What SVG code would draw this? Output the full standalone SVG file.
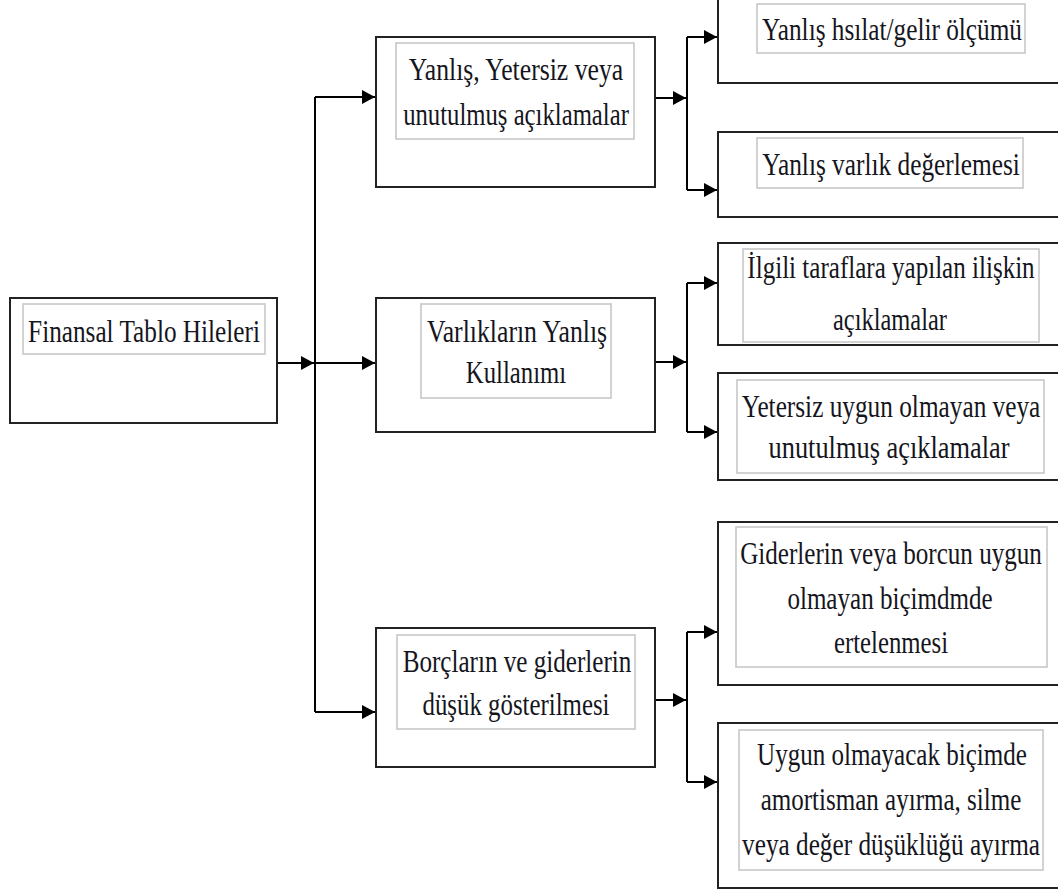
<svg xmlns="http://www.w3.org/2000/svg" width="1058" height="894" viewBox="0 0 1058 894">
<defs>
<marker id="ah" markerWidth="13" markerHeight="14" refX="13" refY="7" orient="auto" markerUnits="userSpaceOnUse">
<path d="M0,0 L13,7 L0,14 Z" fill="#000"/>
</marker>
<style>
.outer{fill:#fff;stroke:#222;stroke-width:2}
.inner{fill:#fff;stroke:#c4c4c4;stroke-width:1.5}
.t{font-family:"Liberation Serif","Times New Roman",serif;font-size:32px;fill:#151520;text-anchor:middle}
.c{fill:none;stroke:#000;stroke-width:2}
</style>
</defs>
<rect width="1058" height="894" fill="#fff"/>
<g id="connectors">
<path class="c" d="M277,363 H314" marker-end="url(#ah)"/>
<path class="c" d="M315,97 V712"/>
<path class="c" d="M315,97 H375" marker-end="url(#ah)"/>
<path class="c" d="M315,363 H375" marker-end="url(#ah)"/>
<path class="c" d="M315,712 H375" marker-end="url(#ah)"/>
<path class="c" d="M655,98 H686" marker-end="url(#ah)"/>
<path class="c" d="M687,37 V190"/>
<path class="c" d="M687,37 H717" marker-end="url(#ah)"/>
<path class="c" d="M687,190 H717" marker-end="url(#ah)"/>
<path class="c" d="M655,362 H686" marker-end="url(#ah)"/>
<path class="c" d="M687,283 V432"/>
<path class="c" d="M687,283 H717" marker-end="url(#ah)"/>
<path class="c" d="M687,432 H717" marker-end="url(#ah)"/>
<path class="c" d="M655,700 H686" marker-end="url(#ah)"/>
<path class="c" d="M687,632 V782"/>
<path class="c" d="M687,632 H717" marker-end="url(#ah)"/>
<path class="c" d="M687,782 H717" marker-end="url(#ah)"/>
</g>
<g id="root">
<rect class="outer" x="10" y="298" width="267" height="125"/>
<rect class="inner" x="23" y="304" width="242" height="50"/>
<text class="t" transform="matrix(0.76,0,0,1,144,342)" textLength="305" lengthAdjust="spacingAndGlyphs">Finansal Tablo Hileleri</text>
</g>
<g id="b1">
<rect class="outer" x="376" y="37" width="279" height="150"/>
<rect class="inner" x="396" y="43" width="238" height="96"/>
<text class="t" transform="matrix(0.76,0,0,1,516,80)" textLength="282" lengthAdjust="spacingAndGlyphs">Yanlış, Yetersiz veya</text>
<text class="t" transform="matrix(0.76,0,0,1,516,125)" textLength="297" lengthAdjust="spacingAndGlyphs">unutulmuş açıklamalar</text>
</g>
<g id="b2">
<rect class="outer" x="376" y="298" width="279" height="134"/>
<rect class="inner" x="421" y="304" width="190" height="94"/>
<text class="t" transform="matrix(0.76,0,0,1,517,342)" textLength="237" lengthAdjust="spacingAndGlyphs">Varlıkların Yanlış</text>
<text class="t" transform="matrix(0.76,0,0,1,516,383)" textLength="132" lengthAdjust="spacingAndGlyphs">Kullanımı</text>
</g>
<g id="b3">
<rect class="outer" x="376" y="628" width="279" height="139"/>
<rect class="inner" x="397" y="635" width="238" height="94"/>
<text class="t" transform="matrix(0.76,0,0,1,517,672)" textLength="301" lengthAdjust="spacingAndGlyphs">Borçların ve giderlerin</text>
<text class="t" transform="matrix(0.76,0,0,1,516,715)" textLength="246" lengthAdjust="spacingAndGlyphs">düşük gösterilmesi</text>
</g>
<g id="a">
<rect class="outer" x="718" y="-2" width="345" height="85"/>
<rect class="inner" x="757" y="4" width="268" height="49"/>
<text class="t" transform="matrix(0.76,0,0,1,892,40)" textLength="342" lengthAdjust="spacingAndGlyphs">Yanlış hsılat/gelir ölçümü</text>
</g>
<g id="b">
<rect class="outer" x="718" y="132" width="345" height="85"/>
<rect class="inner" x="757" y="138" width="266" height="50"/>
<text class="t" transform="matrix(0.76,0,0,1,891,175)" textLength="339" lengthAdjust="spacingAndGlyphs">Yanlış varlık değerlemesi</text>
</g>
<g id="c">
<rect class="outer" x="718" y="243" width="345" height="102"/>
<rect class="inner" x="743" y="249" width="296" height="93"/>
<text class="t" transform="matrix(0.76,0,0,1,891,278)" textLength="378" lengthAdjust="spacingAndGlyphs">İlgili taraflara yapılan ilişkin</text>
<text class="t" transform="matrix(0.76,0,0,1,890,330)" textLength="150" lengthAdjust="spacingAndGlyphs">açıklamalar</text>
</g>
<g id="d">
<rect class="outer" x="718" y="373" width="345" height="107"/>
<rect class="inner" x="737" y="380" width="307" height="93"/>
<text class="t" transform="matrix(0.76,0,0,1,891,417)" textLength="393" lengthAdjust="spacingAndGlyphs">Yetersiz uygun olmayan veya</text>
<text class="t" transform="matrix(0.76,0,0,1,889,458)" textLength="317" lengthAdjust="spacingAndGlyphs">unutulmuş açıklamalar</text>
</g>
<g id="e">
<rect class="outer" x="718" y="522" width="345" height="163"/>
<rect class="inner" x="736" y="527" width="311" height="140"/>
<text class="t" transform="matrix(0.76,0,0,1,891,564)" textLength="397" lengthAdjust="spacingAndGlyphs">Giderlerin veya borcun uygun</text>
<text class="t" transform="matrix(0.76,0,0,1,890,609)" textLength="270" lengthAdjust="spacingAndGlyphs">olmayan biçimdmde</text>
<text class="t" transform="matrix(0.76,0,0,1,891,653)" textLength="150" lengthAdjust="spacingAndGlyphs">ertelenmesi</text>
</g>
<g id="f">
<rect class="outer" x="718" y="723" width="345" height="165"/>
<rect class="inner" x="739" y="730" width="304" height="140"/>
<text class="t" transform="matrix(0.76,0,0,1,892,765)" textLength="355" lengthAdjust="spacingAndGlyphs">Uygun olmayacak biçimde</text>
<text class="t" transform="matrix(0.76,0,0,1,891,810)" textLength="343" lengthAdjust="spacingAndGlyphs">amortisman ayırma, silme</text>
<text class="t" transform="matrix(0.76,0,0,1,891,855)" textLength="392" lengthAdjust="spacingAndGlyphs">veya değer düşüklüğü ayırma</text>
</g>
</svg>
